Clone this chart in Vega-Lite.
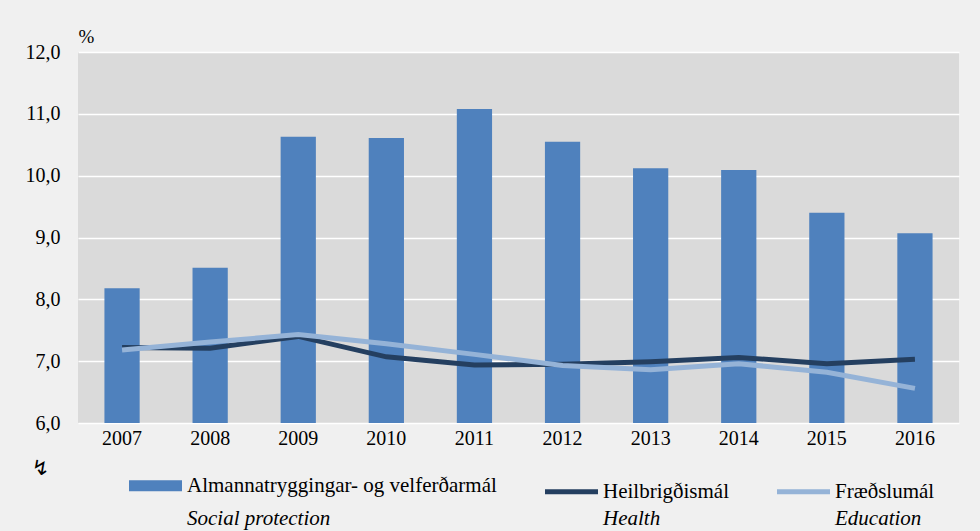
{
  "$schema": "https://vega.github.io/schema/vega-lite/v6.json",
  "autosize": {"type": "none"},
  "padding": {"left": 78, "top": 52, "right": 21, "bottom": 108},
  "width": 881,
  "height": 371,
  "background": "#f0f0f0",
  "config": {
    "view": {"fill": "#dadada", "stroke": null},
    "font": "Liberation Serif, Times New Roman, DejaVu Serif, serif",
    "axis": {"labelFont": "Liberation Serif, Times New Roman, DejaVu Serif, serif", "titleFont": "Liberation Serif, Times New Roman, DejaVu Serif, serif", "labelColor": "#000", "titleColor": "#000"},
    "legend": {"labelFont": "Liberation Serif, Times New Roman, DejaVu Serif, serif", "labelColor": "#000"}
  },
  "data": {
    "values": [
      {"year": "2007", "series": "Almannatryggingar- og velferðarmál", "value": 8.18},
      {"year": "2008", "series": "Almannatryggingar- og velferðarmál", "value": 8.51},
      {"year": "2009", "series": "Almannatryggingar- og velferðarmál", "value": 10.63},
      {"year": "2010", "series": "Almannatryggingar- og velferðarmál", "value": 10.61},
      {"year": "2011", "series": "Almannatryggingar- og velferðarmál", "value": 11.08},
      {"year": "2012", "series": "Almannatryggingar- og velferðarmál", "value": 10.55},
      {"year": "2013", "series": "Almannatryggingar- og velferðarmál", "value": 10.12},
      {"year": "2014", "series": "Almannatryggingar- og velferðarmál", "value": 10.09},
      {"year": "2015", "series": "Almannatryggingar- og velferðarmál", "value": 9.4},
      {"year": "2016", "series": "Almannatryggingar- og velferðarmál", "value": 9.07},
      {"year": "2007", "series": "Heilbrigðismál", "value": 7.22},
      {"year": "2008", "series": "Heilbrigðismál", "value": 7.21},
      {"year": "2009", "series": "Heilbrigðismál", "value": 7.4},
      {"year": "2010", "series": "Heilbrigðismál", "value": 7.07},
      {"year": "2011", "series": "Heilbrigðismál", "value": 6.94},
      {"year": "2012", "series": "Heilbrigðismál", "value": 6.95},
      {"year": "2013", "series": "Heilbrigðismál", "value": 6.99},
      {"year": "2014", "series": "Heilbrigðismál", "value": 7.06},
      {"year": "2015", "series": "Heilbrigðismál", "value": 6.96},
      {"year": "2016", "series": "Heilbrigðismál", "value": 7.03},
      {"year": "2007", "series": "Fræðslumál", "value": 7.18},
      {"year": "2008", "series": "Fræðslumál", "value": 7.31},
      {"year": "2009", "series": "Fræðslumál", "value": 7.43},
      {"year": "2010", "series": "Fræðslumál", "value": 7.28},
      {"year": "2011", "series": "Fræðslumál", "value": 7.11},
      {"year": "2012", "series": "Fræðslumál", "value": 6.93},
      {"year": "2013", "series": "Fræðslumál", "value": 6.86},
      {"year": "2014", "series": "Fræðslumál", "value": 6.96},
      {"year": "2015", "series": "Fræðslumál", "value": 6.82},
      {"year": "2016", "series": "Fræðslumál", "value": 6.56}
    ]
  },
  "encoding": {
    "x": {
      "field": "year",
      "type": "ordinal",
      "scale": {"paddingInner": 0.6, "paddingOuter": 0.3},
      "axis": {
        "labelAngle": 0,
        "labelFontSize": 20,
        "labelPadding": 5,
        "ticks": false,
        "domain": false,
        "title": "↯",
        "titleFont": "DejaVu Sans",
        "titleFontSize": 21,
        "titleFontWeight": "normal",
        "titleX": -38,
        "titleY": 34
      }
    },
    "y": {
      "field": "value",
      "type": "quantitative",
      "scale": {"domain": [6, 12], "nice": false, "zero": false},
      "axis": {
        "values": [6, 7, 8, 9, 10, 11, 12],
        "labelExpr": "replace(format(datum.value, '.1f'), '.', ',')",
        "labelFontSize": 20,
        "labelPadding": 18,
        "ticks": false,
        "domain": false,
        "gridColor": "#ffffff",
        "gridWidth": 1.5,
        "title": "%",
        "titleAngle": 0,
        "titleAlign": "left",
        "titleBaseline": "alphabetic",
        "titleX": 0,
        "titleY": -10,
        "titleFontSize": 19,
        "titleFontWeight": "normal"
      }
    }
  },
  "layer": [
    {
      "transform": [{"filter": "datum.series === 'Almannatryggingar- og velferðarmál'"}],
      "mark": {"type": "bar", "clip": true},
      "encoding": {
        "color": {
          "field": "series",
          "type": "nominal",
          "scale": {
            "domain": ["Almannatryggingar- og velferðarmál", "Heilbrigðismál", "Fræðslumál", "Social protection", "Health", "Education"],
            "range": ["#4f81bd", "#243f60", "#95b3d7", "#f0f0f0", "#f0f0f0", "#f0f0f0"]
          },
          "legend": {
            "orient": "none",
            "legendX": 67,
            "legendY": 423,
            "direction": "horizontal",
            "columns": 3,
            "title": null,
            "symbolType": "stroke",
            "symbolSize": 2809,
            "symbolStrokeWidth": 5,
            "columnPadding": 38,
            "rowPadding": -11,
            "labelFontSize": 21,
            "labelOffset": 21,
            "labelLimit": 600,
            "encode": {
              "symbols": {
                "update": {
                  "stroke": {"signal": "scale('color', datum.value)"},
                  "fill": {"value": "transparent"},
                  "strokeWidth": {"signal": "datum.value === 'Almannatryggingar- og velferðarmál' ? 11 : 5"},
                  "opacity": {"signal": "indexof(['Social protection', 'Health', 'Education'], datum.value) >= 0 ? 0 : 1"}
                }
              },
              "labels": {
                "update": {
                  "fontStyle": {"signal": "indexof(['Social protection', 'Health', 'Education'], datum.value) >= 0 ? 'italic' : 'normal'"}
                }
              }
            }
          }
        }
      }
    },
    {
      "transform": [{"filter": "datum.series === 'Heilbrigðismál'"}],
      "mark": {"type": "line", "strokeWidth": 5},
      "encoding": {"color": {"field": "series", "type": "nominal"}}
    },
    {
      "transform": [{"filter": "datum.series === 'Fræðslumál'"}],
      "mark": {"type": "line", "strokeWidth": 5},
      "encoding": {"color": {"field": "series", "type": "nominal"}}
    }
  ]
}
